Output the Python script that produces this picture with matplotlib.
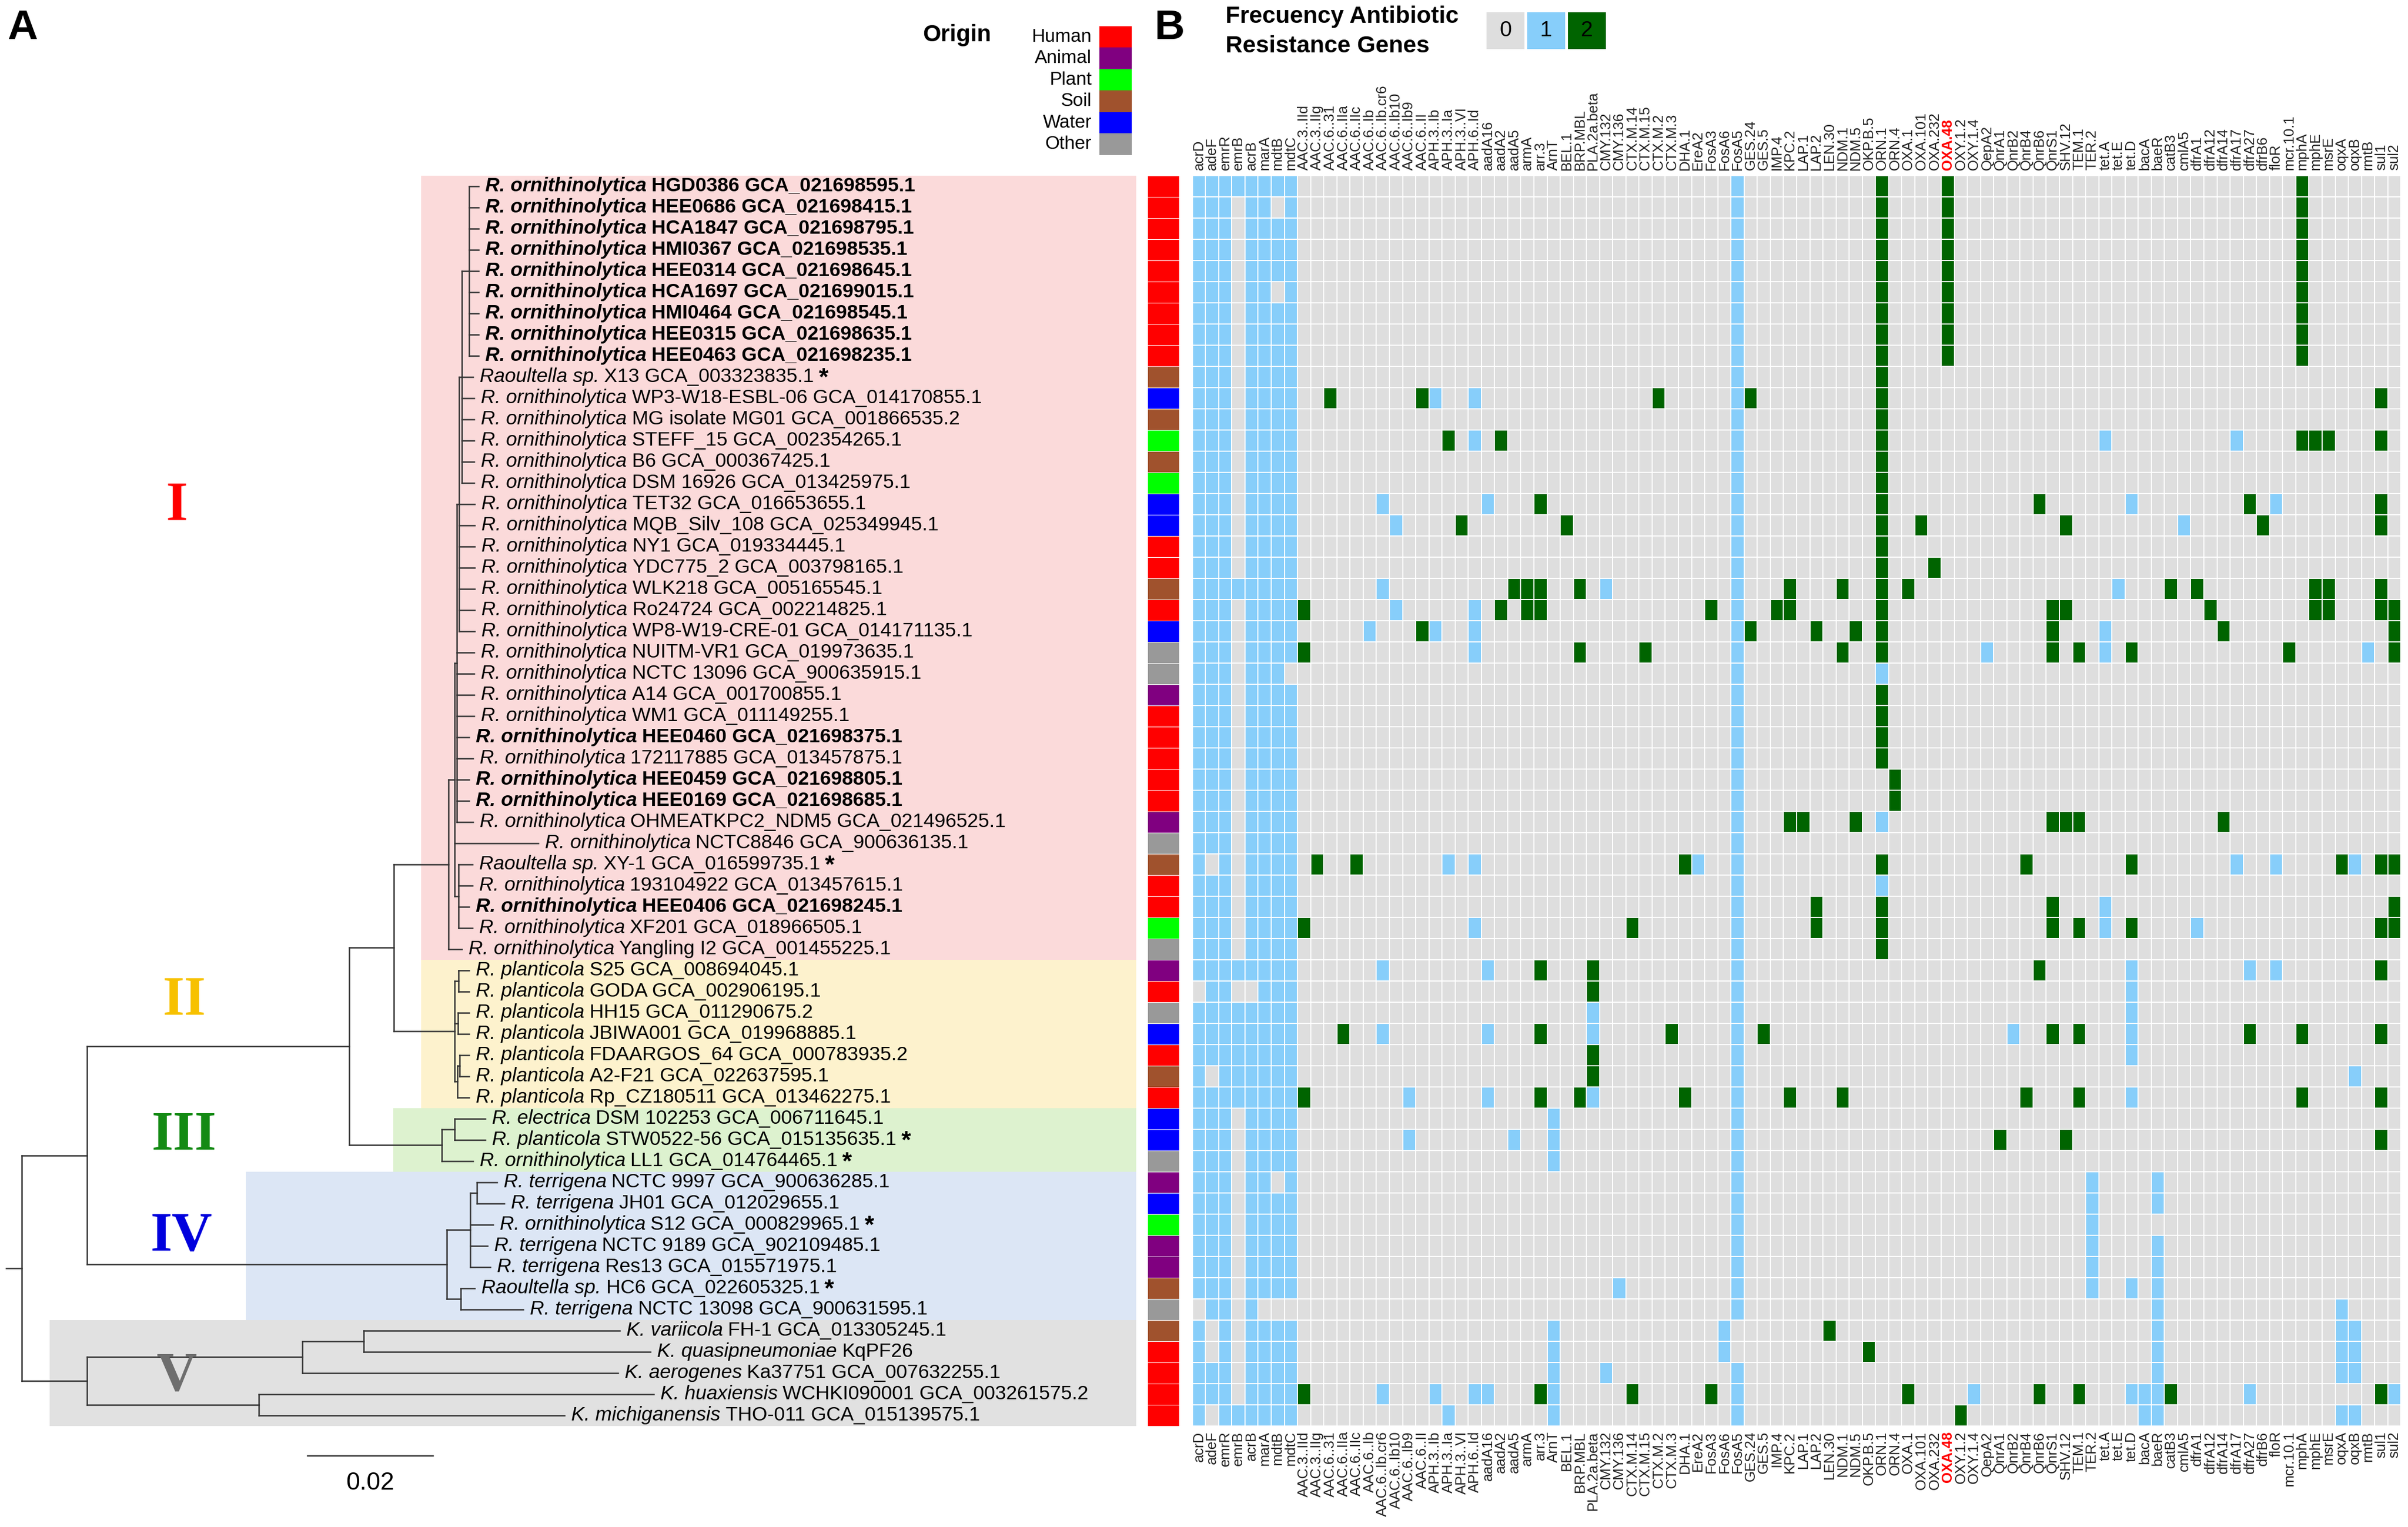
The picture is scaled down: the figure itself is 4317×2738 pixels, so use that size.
import numpy as np
import matplotlib
matplotlib.use("Agg")
import matplotlib.pyplot as plt
from matplotlib.colors import ListedColormap
from matplotlib.patches import Rectangle
from matplotlib.collections import LineCollection

plt.rcParams['font.family'] = ['Liberation Sans', 'DejaVu Sans']

W, H = 4317, 2738

# ---- data ----
genes = ['acrD', 'adeF', 'emrR', 'emrB', 'acrB', 'marA', 'mdtB', 'mdtC',
         'AAC.3..IId', 'AAC.3..IIg', 'AAC.6..31', 'AAC.6..IIa', 'AAC.6..IIc', 'AAC.6..Ib',
         'AAC.6..Ib.cr6', 'AAC.6..Ib10', 'AAC.6..Ib9', 'AAC.6..II', 'APH.3..Ib', 'APH.3..Ia',
         'APH.3..VI', 'APH.6..Id', 'aadA16', 'aadA2', 'aadA5', 'armA', 'arr.3', 'ArnT', 'BEL.1',
         'BRP.MBL', 'PLA.2a.beta', 'CMY.132', 'CMY.136', 'CTX.M.14', 'CTX.M.15', 'CTX.M.2',
         'CTX.M.3', 'DHA.1', 'EreA2', 'FosA3', 'FosA6', 'FosA5', 'GES.24', 'GES.5', 'IMP.4',
         'KPC.2', 'LAP.1', 'LAP.2', 'LEN.30', 'NDM.1', 'NDM.5', 'OKP.B.5', 'ORN.1', 'ORN.4',
         'OXA.1', 'OXA.101', 'OXA.232', 'OXA.48', 'OXY.1.2', 'OXY.1.4', 'QepA2', 'QnrA1',
         'QnrB2', 'QnrB4', 'QnrB6', 'QnrS1', 'SHV.12', 'TEM.1', 'TER.2', 'tet.A', 'tet.E',
         'tet.D', 'bacA', 'baeR', 'catB3', 'cmlA5', 'dfrA1', 'dfrA12', 'dfrA14', 'dfrA17',
         'dfrA27', 'dfrB6', 'floR', 'mcr.10.1', 'mphA', 'mphE', 'msrE', 'oqxA', 'oqxB',
         'rmtB', 'sul1', 'sul2']

species = ['R. ornithinolytica'] * 9 + ['Raoultella sp.'] + ['R. ornithinolytica'] * 22 + \
          ['Raoultella sp.'] + ['R. ornithinolytica'] * 4 + ['R. planticola'] * 7 + \
          ['R. electrica', 'R. planticola', 'R. ornithinolytica', 'R. terrigena', 'R. terrigena',
           'R. ornithinolytica', 'R. terrigena', 'R. terrigena', 'Raoultella sp.', 'R. terrigena',
           'K. variicola', 'K. quasipneumoniae', 'K. aerogenes', 'K. huaxiensis', 'K. michiganensis']

strains = ['HGD0386 GCA_021698595.1', 'HEE0686 GCA_021698415.1', 'HCA1847 GCA_021698795.1',
           'HMI0367 GCA_021698535.1', 'HEE0314 GCA_021698645.1', 'HCA1697 GCA_021699015.1',
           'HMI0464 GCA_021698545.1', 'HEE0315 GCA_021698635.1', 'HEE0463 GCA_021698235.1',
           'X13 GCA_003323835.1', 'WP3-W18-ESBL-06 GCA_014170855.1', 'MG isolate MG01 GCA_001866535.2',
           'STEFF_15 GCA_002354265.1', 'B6 GCA_000367425.1', 'DSM 16926 GCA_013425975.1',
           'TET32 GCA_016653655.1', 'MQB_Silv_108 GCA_025349945.1', 'NY1 GCA_019334445.1',
           'YDC775_2 GCA_003798165.1', 'WLK218 GCA_005165545.1', 'Ro24724 GCA_002214825.1',
           'WP8-W19-CRE-01 GCA_014171135.1', 'NUITM-VR1 GCA_019973635.1', 'NCTC 13096 GCA_900635915.1',
           'A14 GCA_001700855.1', 'WM1 GCA_011149255.1', 'HEE0460 GCA_021698375.1',
           '172117885 GCA_013457875.1', 'HEE0459 GCA_021698805.1', 'HEE0169 GCA_021698685.1',
           'OHMEATKPC2_NDM5 GCA_021496525.1', 'NCTC8846 GCA_900636135.1', 'XY-1 GCA_016599735.1',
           '193104922 GCA_013457615.1', 'HEE0406 GCA_021698245.1', 'XF201 GCA_018966505.1',
           'Yangling I2 GCA_001455225.1', 'S25 GCA_008694045.1', 'GODA GCA_002906195.1',
           'HH15 GCA_011290675.2', 'JBIWA001 GCA_019968885.1', 'FDAARGOS_64 GCA_000783935.2',
           'A2-F21 GCA_022637595.1', 'Rp_CZ180511 GCA_013462275.1', 'DSM 102253 GCA_006711645.1',
           'STW0522-56 GCA_015135635.1', 'LL1 GCA_014764465.1', 'NCTC 9997 GCA_900636285.1',
           'JH01 GCA_012029655.1', 'S12 GCA_000829965.1', 'NCTC 9189 GCA_902109485.1',
           'Res13 GCA_015571975.1', 'HC6 GCA_022605325.1', 'NCTC 13098 GCA_900631595.1',
           'FH-1 GCA_013305245.1', 'KqPF26', 'Ka37751 GCA_007632255.1',
           'WCHKI090001 GCA_003261575.2', 'THO-011 GCA_015139575.1']

bold_rows = [0, 1, 2, 3, 4, 5, 6, 7, 8, 26, 28, 29, 34]
star_rows = [9, 32, 45, 46, 49, 52]

origin_names = ['Human', 'Animal', 'Plant', 'Soil', 'Water', 'Other']
origin_colors = ['#FF0000', '#800080', '#00FF00', '#A0522D', '#0000FF', '#999999']
origin = ['Human'] * 9 + ['Soil', 'Water', 'Soil', 'Plant', 'Soil', 'Plant', 'Water', 'Water',
          'Human', 'Human', 'Soil', 'Human', 'Water', 'Other', 'Other', 'Animal'] + ['Human'] * 5 + \
         ['Animal', 'Other', 'Soil', 'Human', 'Human', 'Plant', 'Other', 'Animal', 'Human', 'Other',
          'Water', 'Human', 'Soil', 'Human', 'Water', 'Water', 'Other', 'Animal', 'Water', 'Plant',
          'Animal', 'Animal', 'Soil', 'Other', 'Soil'] + ['Human'] * 4

# efflux genes (first 8 columns), one string per strain
efflux = ['11111111', '11101101', '11101111', '11101111', '11101111', '11101101', '11101111',
          '11101111', '11101111', '11101111', '11101111', '11101111', '11101111', '11101111',
          '11101111', '11101111', '11101111', '11101111', '11101111', '11111111', '11101111',
          '11101111', '11101111', '11101110', '11101111', '11101111', '11101111', '11101111',
          '11101111', '11101111', '11101111', '11101111', '10101111', '11101111', '11101111',
          '11101111', '11101111', '11111111', '01100111', '11111111', '11111111', '11111111',
          '10111111', '11111111', '11101111', '11101111', '11101111', '11101101', '11101111',
          '11101111', '11101111', '11101111', '11101111', '01101000', '10101111', '10101111',
          '11101111', '11101111', '10111111']

# other genes present (gene:value), one string per strain
hits = [
    'FosA5:1 ORN.1:2 OXA.48:2 mphA:2',
    'FosA5:1 ORN.1:2 OXA.48:2 mphA:2',
    'FosA5:1 ORN.1:2 OXA.48:2 mphA:2',
    'FosA5:1 ORN.1:2 OXA.48:2 mphA:2',
    'FosA5:1 ORN.1:2 OXA.48:2 mphA:2',
    'FosA5:1 ORN.1:2 OXA.48:2 mphA:2',
    'FosA5:1 ORN.1:2 OXA.48:2 mphA:2',
    'FosA5:1 ORN.1:2 OXA.48:2 mphA:2',
    'FosA5:1 ORN.1:2 OXA.48:2 mphA:2',
    'FosA5:1 ORN.1:2',
    'AAC.6..31:2 AAC.6..II:2 APH.3..Ib:1 APH.6..Id:1 CTX.M.2:2 FosA5:1 GES.24:2 ORN.1:2 sul1:2',
    'FosA5:1 ORN.1:2',
    'APH.3..Ia:2 APH.6..Id:1 aadA2:2 FosA5:1 ORN.1:2 tet.A:1 dfrA17:1 mphA:2 mphE:2 msrE:2 sul1:2',
    'FosA5:1 ORN.1:2',
    'FosA5:1 ORN.1:2',
    'AAC.6..Ib.cr6:1 aadA16:1 arr.3:2 FosA5:1 ORN.1:2 QnrB6:2 tet.D:1 dfrA27:2 floR:1 sul1:2',
    'AAC.6..Ib10:1 APH.3..VI:2 BEL.1:2 FosA5:1 ORN.1:2 OXA.101:2 SHV.12:2 cmlA5:1 dfrB6:2 sul1:2',
    'FosA5:1 ORN.1:2',
    'FosA5:1 ORN.1:2 OXA.232:2',
    'AAC.6..Ib.cr6:1 aadA5:2 armA:2 arr.3:2 BRP.MBL:2 CMY.132:1 FosA5:1 KPC.2:2 NDM.1:2 ORN.1:2 '
    'OXA.1:2 tet.E:1 catB3:2 dfrA1:2 mphE:2 msrE:2 sul1:2',
    'AAC.3..IId:2 AAC.6..Ib10:1 APH.6..Id:1 aadA2:2 armA:2 arr.3:2 FosA3:2 FosA5:1 IMP.4:2 KPC.2:2 '
    'ORN.1:2 QnrS1:2 SHV.12:2 dfrA12:2 mphE:2 msrE:2 sul1:2 sul2:2',
    'AAC.6..Ib:1 AAC.6..II:2 APH.3..Ib:1 APH.6..Id:1 FosA5:1 GES.24:2 LAP.2:2 NDM.5:2 ORN.1:2 '
    'QnrS1:2 tet.A:1 dfrA14:2 sul2:2',
    'AAC.3..IId:2 APH.6..Id:1 BRP.MBL:2 CTX.M.15:2 FosA5:1 NDM.1:2 ORN.1:2 QepA2:1 QnrS1:2 TEM.1:2 '
    'tet.A:1 tet.D:2 mcr.10.1:2 rmtB:1 sul2:2',
    'FosA5:1 ORN.1:1',
    'FosA5:1 ORN.1:2',
    'FosA5:1 ORN.1:2',
    'FosA5:1 ORN.1:2',
    'FosA5:1 ORN.1:2',
    'FosA5:1 ORN.4:2',
    'FosA5:1 ORN.4:2',
    'FosA5:1 KPC.2:2 LAP.1:2 NDM.5:2 ORN.1:1 QnrS1:2 SHV.12:2 TEM.1:2 dfrA14:2',
    'FosA5:1',
    'AAC.3..IIg:2 AAC.6..IIc:2 APH.3..Ia:1 APH.6..Id:1 DHA.1:2 EreA2:1 FosA5:1 ORN.1:2 QnrB4:2 '
    'tet.D:2 dfrA17:1 floR:1 oqxA:2 oqxB:1 sul1:2 sul2:2',
    'FosA5:1 ORN.1:1',
    'FosA5:1 LAP.2:2 ORN.1:2 QnrS1:2 tet.A:1 sul2:2',
    'AAC.3..IId:2 APH.6..Id:1 CTX.M.14:2 FosA5:1 LAP.2:2 ORN.1:2 QnrS1:2 TEM.1:2 tet.A:1 tet.D:2 '
    'dfrA1:1 sul1:2 sul2:2',
    'FosA5:1 ORN.1:2',
    'AAC.6..Ib.cr6:1 aadA16:1 arr.3:2 PLA.2a.beta:2 FosA5:1 QnrB6:2 tet.D:1 dfrA27:1 floR:1 sul1:2',
    'PLA.2a.beta:2 FosA5:1 tet.D:1',
    'PLA.2a.beta:1 FosA5:1 tet.D:1',
    'AAC.6..IIa:2 AAC.6..Ib.cr6:1 aadA16:1 arr.3:2 PLA.2a.beta:1 CTX.M.3:2 FosA5:1 GES.5:2 QnrB2:1 '
    'QnrS1:2 TEM.1:2 tet.D:1 dfrA27:2 mphA:2 sul1:2',
    'PLA.2a.beta:2 FosA5:1 tet.D:1',
    'PLA.2a.beta:2 FosA5:1 oqxB:1',
    'AAC.3..IId:2 AAC.6..Ib9:1 aadA16:1 arr.3:2 BRP.MBL:2 PLA.2a.beta:1 DHA.1:2 FosA5:1 KPC.2:2 '
    'NDM.1:2 QnrB4:2 TEM.1:2 tet.D:1 mphA:2 sul1:2',
    'ArnT:1 FosA5:1',
    'AAC.6..Ib9:1 aadA5:1 ArnT:1 FosA5:1 QnrA1:2 SHV.12:2 sul1:2',
    'ArnT:1 FosA5:1',
    'FosA5:1 TER.2:1 baeR:1',
    'FosA5:1 TER.2:1 baeR:1',
    'FosA5:1 TER.2:1',
    'FosA5:1 TER.2:1 baeR:1',
    'FosA5:1 TER.2:1 baeR:1',
    'CMY.136:1 FosA5:1 TER.2:1 tet.D:1 baeR:1',
    'FosA5:1 baeR:1 oqxA:1',
    'ArnT:1 FosA6:1 LEN.30:2 baeR:1 oqxA:1 oqxB:1',
    'ArnT:1 FosA6:1 OKP.B.5:2 baeR:1 oqxA:1 oqxB:1',
    'ArnT:1 CMY.132:1 FosA5:1 baeR:1 oqxA:1 oqxB:1',
    'AAC.3..IId:2 AAC.6..Ib.cr6:1 APH.3..Ib:1 APH.6..Id:1 aadA16:1 arr.3:2 ArnT:1 CTX.M.14:2 '
    'FosA3:2 FosA5:1 OXA.1:2 OXY.1.4:1 QnrB6:2 TEM.1:2 tet.D:1 bacA:1 baeR:1 catB3:2 dfrA27:1 '
    'sul1:2 sul2:1',
    'APH.3..Ia:1 ArnT:1 FosA5:1 OXY.1.2:2 bacA:1 baeR:1 oqxA:1 oqxB:1',
]

# tree (tips r0..r58 follow the row order), branch lengths in substitutions/site
newick = ('((((((((((r0:0.0015,r1:0.0015,r2:0.0015,r3:0.0015,r4:0.0015,r5:0.0015,r6:0.0015,'
          'r7:0.0015,r8:0.0015):0.0012,r9:0.0018,r10:0.0020,r11:0.0020,r12:0.0020,r13:0.0020,'
          'r14:0.0020):0.0004,r15:0.0025,r16:0.0025,r17:0.0025,r18:0.0025,r19:0.0025,r20:0.0025,'
          'r21:0.0025):0.0004,r22:0.0028,r23:0.0028,r24:0.0028,r25:0.0028,r26:0.0020,r27:0.0026,'
          'r28:0.0020,r29:0.0020,r30:0.0026):0.0003,r31:0.0133,(r32:0.0022,r33:0.0022,r34:0.0017,'
          'r35:0.0022):0.0006):0.0010,r36:0.0021):0.0087,((r37:0.0017,r38:0.0017):0.0006,'
          '(r39:0.0018,r40:0.0018):0.0005,((r41:0.0015,r42:0.0015):0.0004,r43:0.0019):0.0004)'
          ':0.0097):0.0071,((r44:0.0049,r45:0.0049):0.0021,r46:0.0050):0.0147):0.0418,'
          '(((r47:0.0032,r48:0.0044):0.0010,r49:0.0036,r50:0.0027,r51:0.0032):0.0038,'
          '(r52:0.0022,r53:0.0099):0.0023):0.0573):0.0104,(((r54:0.0408,r55:0.0457):0.0098,'
          'r56:0.0503):0.0343,(r57:0.0629,r58:0.0487):0.0274):0.0104);')

clade_names = ['I', 'II', 'III', 'IV', 'V']
clade_rows = [(0, 36), (37, 43), (44, 46), (47, 53), (54, 58)]
clade_bg = ['#FBDADA', '#FDF2CD', '#DDF2CF', '#DCE6F5', '#E1E1E1']
clade_fg = ['#FF0000', '#F7C100', '#138A13', '#0000DD', '#6E6E6E']
clade_bg_left = [0.0636, 0.0636, 0.0592, 0.0357, 0.0044]
clade_label_pos = [(0.0247, 15.1), (0.0259, 38.45), (0.0259, 44.8), (0.0254, 49.6), (0.0247, 56.2)]

n_rows = len(strains)

# ---- build matrix ----
mat = np.zeros((n_rows, len(genes)))
for i in range(n_rows):
    for j, c in enumerate(efflux[i]):
        mat[i, j] = int(c)
    for item in hits[i].split():
        g, v = item.rsplit(':', 1)
        mat[i, genes.index(g)] = int(v)


# ---- tree parsing / layout ----
def parse_newick(s):
    pos = 0

    def node():
        nonlocal pos
        kids = []
        if s[pos] == '(':
            pos += 1
            while True:
                kids.append(node())
                if s[pos] == ',':
                    pos += 1
                else:
                    break
            pos += 1
        start = pos
        while s[pos] not in ',);':
            pos += 1
        name, _, ln = s[start:pos].partition(':')
        return {'name': name, 'len': float(ln) if ln else 0.0, 'kids': kids}
    return node()


def layout(n, x0):
    n['x'] = x0 + n['len']
    if n['kids']:
        ys = [layout(k, n['x']) for k in n['kids']]
        n['y'] = (ys[0] + ys[-1]) / 2
    else:
        n['y'] = int(n['name'][1:])
    return n['y']


segs = []
tips = {}


def collect(n):
    if not n['kids']:
        tips[int(n['name'][1:])] = n['x']
        return
    segs.append([(n['x'], n['kids'][0]['y']), (n['x'], n['kids'][-1]['y'])])
    for k in n['kids']:
        segs.append([(n['x'], k['y']), (k['x'], k['y'])])
        collect(k)


tree = parse_newick(newick)
layout(tree, 0.0)
collect(tree)
segs.append([(-0.0025, tree['y']), (0.0, tree['y'])])

# ---- figure ----
fig = plt.figure(figsize=(W / 100, H / 100), dpi=100)


def px_box(x0, y0, x1, y1):
    return [x0 / W, 1 - y1 / H, (x1 - x0) / W, (y1 - y0) / H]


top_px, bot_px = 314.7, 2556.7
ax_t = fig.add_axes(px_box(0, top_px, 2057, bot_px))
ax_o = fig.add_axes(px_box(2057, top_px, 2114, bot_px))
ax_h = fig.add_axes(px_box(2137.7, top_px, 2137.7 + 23.55 * len(genes), bot_px))

# tree panel
px_unit = 11250.0
ax_t.set_xlim(-39 / px_unit, (2057 - 39) / px_unit)
ax_t.set_ylim(n_rows - 0.5, -0.5)
ax_t.axis('off')
right_edge = (2037 - 39) / px_unit
for (r0, r1), bg, xl in zip(clade_rows, clade_bg, clade_bg_left):
    ax_t.add_patch(Rectangle((xl, r0 - 0.5), right_edge - xl, r1 - r0 + 1,
                             facecolor=bg, edgecolor='none', zorder=0))
ax_t.add_collection(LineCollection(segs, colors='#333333', linewidths=1.8, capstyle='projecting', zorder=2))

for (lx, ly), nm, fg in zip(clade_label_pos, clade_names, clade_fg):
    ax_t.text(lx, ly, nm, color=fg, fontsize=72, fontweight='bold', family='Liberation Serif',
              ha='center', va='center', zorder=3)

for i in range(n_rows):
    w = 'bold' if i in bold_rows else 'normal'
    t1 = ax_t.text(tips[i] + 12 / px_unit, i, species[i], fontsize=25.5, style='italic',
                   fontweight=w, ha='left', va='center', zorder=3)
    t2 = ax_t.annotate(strains[i], xy=(1, 0.5), xycoords=t1, xytext=(6.5, 0),
                       textcoords='offset points', fontsize=25.5, fontweight=w,
                       ha='left', va='center', zorder=3)
    if i in star_rows:
        ax_t.annotate('*', xy=(1, 0.5), xycoords=t2, xytext=(6, -2), textcoords='offset points',
                      fontsize=32, fontweight='bold', ha='left', va='center', zorder=3)

# scale bar
sb_x = (551 - 39) / px_unit
ax_t.plot([sb_x, sb_x + 0.02], [59.9, 59.9], color='#333333', lw=1.8, clip_on=False)
ax_t.text(sb_x + 0.01, 61.2, '0.02', fontsize=32, ha='center', va='center')

# origin strip
codes = np.array([[origin_names.index(o)] for o in origin])
ax_o.pcolormesh([-0.5, 0.5], np.arange(n_rows + 1) - 0.5, codes, cmap=ListedColormap(origin_colors),
                vmin=-0.5, vmax=5.5, edgecolors='white', linewidth=0.6)
ax_o.set_ylim(n_rows - 0.5, -0.5)
ax_o.axis('off')

# heatmap
ax_h.pcolormesh(np.arange(len(genes) + 1) - 0.5, np.arange(n_rows + 1) - 0.5, mat,
                cmap=ListedColormap(['#DEDEDE', '#87CEFA', '#006400']), vmin=-0.5, vmax=2.5,
                edgecolors='white', linewidth=1.3)
ax_h.set_xlim(-0.5, len(genes) - 0.5)
ax_h.set_ylim(n_rows - 0.5, -0.5)
ax_h.set_yticks([])
ax_h.set_xticks(range(len(genes)))
ax_h.set_xticklabels(genes)
ax_h.tick_params(axis='x', length=0, pad=7, labeltop=True, labelbottom=True,
                 labelrotation=90, labelsize=18.5, labelcolor='#222222')
for tk in ax_h.xaxis.get_major_ticks():
    if tk.label1.get_text() == 'OXA.48':
        for lb in (tk.label1, tk.label2):
            lb.set_color('red')
            lb.set_fontweight('bold')
for s in ax_h.spines.values():
    s.set_visible(False)


# ---- legends and panel letters ----
def fx(px):
    return px / W


def fy(py):
    return 1 - py / H


fig.text(fx(40), fy(50), 'A', fontsize=54, fontweight='bold', ha='center', va='center')
fig.text(fx(2097), fy(50), 'B', fontsize=54, fontweight='bold', ha='center', va='center')

fig.text(fx(1716), fy(63), 'Origin', fontsize=30, fontweight='bold', ha='center', va='center')
for k, (nm, c) in enumerate(zip(origin_names, origin_colors)):
    y0 = 47 + 38.5 * k
    fig.add_artist(Rectangle((fx(1971), fy(y0 + 38.5)), 58 / W, 38.5 / H, transform=fig.transFigure,
                             facecolor=c, edgecolor='none'))
    fig.text(fx(1957), fy(y0 + 19.25), nm, fontsize=24, ha='right', va='center')

fig.text(fx(2197), fy(30), 'Frecuency Antibiotic', fontsize=30.5, fontweight='bold', ha='left', va='center')
fig.text(fx(2197), fy(83), 'Resistance Genes', fontsize=30.5, fontweight='bold', ha='left', va='center')
for k, c in enumerate(['#DEDEDE', '#87CEFA', '#006400']):
    x0 = 2665 + 73 * k
    fig.add_artist(Rectangle((fx(x0), fy(88)), 68 / W, 66 / H, transform=fig.transFigure,
                             facecolor=c, edgecolor='none'))
    fig.text(fx(x0 + 34), fy(55), str(k), fontsize=28, ha='center', va='center')

fig.savefig('out.png', dpi=100)
